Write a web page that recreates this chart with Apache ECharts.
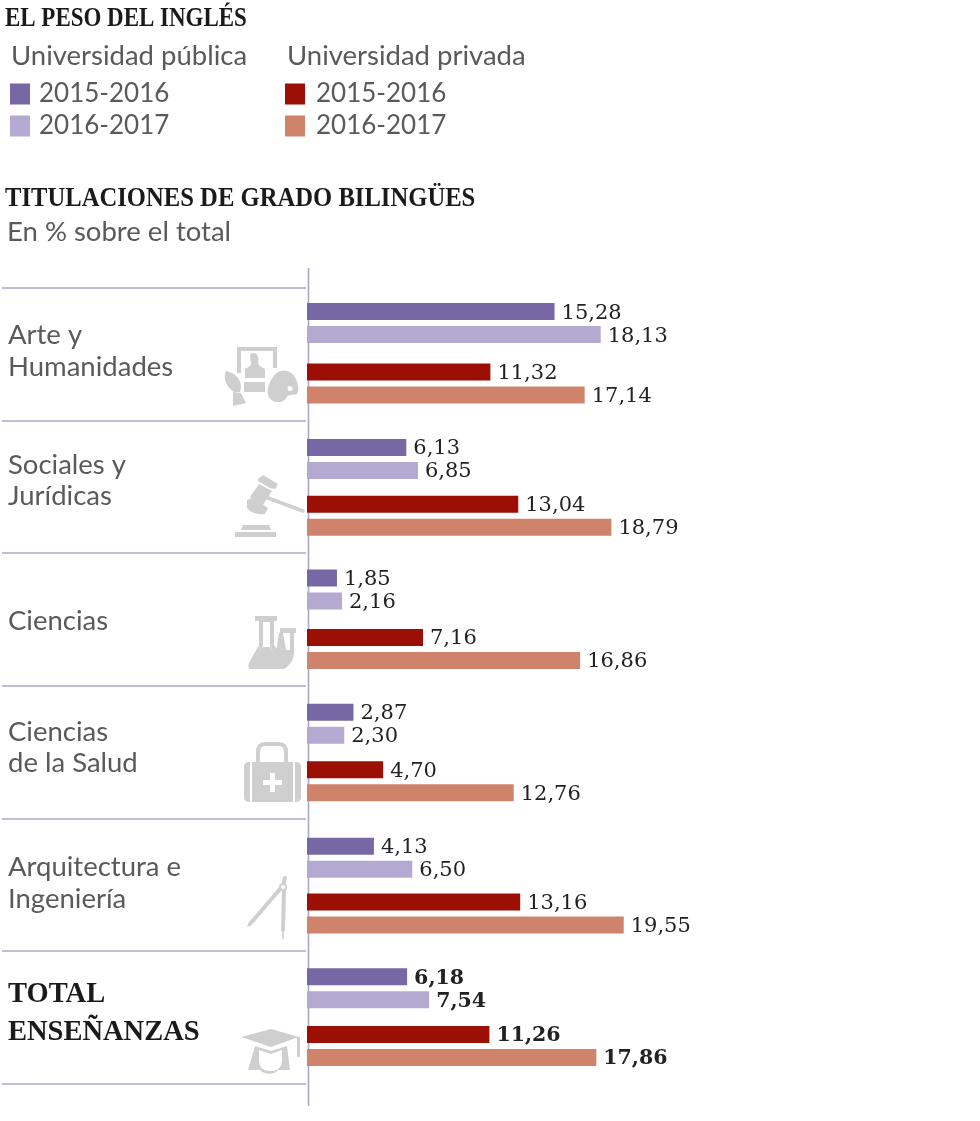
<!DOCTYPE html>
<html><head><meta charset="utf-8">
<style>html,body{margin:0;padding:0;background:#fff}#c{width:980px;height:1121px}</style>
<script src="https://cdn.jsdelivr.net/npm/echarts@6/dist/echarts.min.js"></script>
</head><body><div id="c"></div>
<script>
const categories = ["Arte y\nHumanidades","Sociales y\nJurídicas","Ciencias","Ciencias\nde la Salud","Arquitectura e\nIngeniería","TOTAL\nENSEÑANZAS"];
const publica1516 = [15.28,6.13,1.85,2.87,4.13,6.18];
const publica1617 = [18.13,6.85,2.16,2.30,6.50,7.54];
const privada1516 = [11.32,13.04,7.16,4.70,13.16,11.26];
const privada1617 = [17.14,18.79,16.86,12.76,19.55,17.86];
const rows = ["Pública","Privada"];
const seriesNames = ["2015-2016 pública","2016-2017 pública","2015-2016 privada","2016-2017 privada"];
const colors = ["#7767a4","#b4aad1","#9b0f04","#cf836b"];

// layout (pair centres, px)
const pairCentres = [[323.1,383.4],[459,515.7],[589.5,649],[723.7,781.2],[857.8,913.5],[988.2,1046]];
const labelY = [[335,367],[465,496],[621],[732,763],[867,899],[994,1032]];
const ruleY = [288,421,553,686,819,951,1084];
const SANS = "Lato", SERIF = "'DejaVu Serif'", HEAD = "'Liberation Serif'";
const PX = 16.2, LEFT = 307, XMAX = 40;
const G = "#cfcfcf";

const grids=[],xAxes=[],yAxes=[],series=[];
categories.forEach((c,i)=>{
  const [a,b]=pairCentres[i], p=b-a, bold=i===5;
  grids.push({left:LEFT,width:PX*XMAX,top:a-p/2,height:p*2,containLabel:false});
  xAxes.push({gridIndex:i,type:'value',min:0,max:XMAX,show:false});
  yAxes.push({gridIndex:i,type:'category',inverse:true,data:rows,show:false});
  const vals=[[publica1516[i],null],[publica1617[i],null],[null,privada1516[i]],[null,privada1617[i]]];
  vals.forEach((d,k)=>series.push({
    type:'bar',name:seriesNames[k],xAxisIndex:i,yAxisIndex:i,stack:'g'+i+'s'+(k%2),data:d,
    barWidth:17,barGap:'35.3%',itemStyle:{color:colors[k]},silent:true,z:3,
    label:{show:true,position:'right',distance:7,offset:[0,1.5],color:'#222',
      fontFamily:SERIF,fontSize:bold?20.5:21,fontWeight:bold?'bold':'normal',
      formatter:o=>o.value==null?'':o.value.toFixed(2).replace('.',',')}
  }));
});

const g=[];
const head=(t,y,w)=>g.push({type:'text',x:5,y,scaleX:w,z:5,style:{text:t,fill:'#1a1a1a',font:`bold 28px ${HEAD}`,verticalAlign:'middle'}});
head("EL PESO DEL INGLÉS",19,0.82);
head("TITULACIONES DE GRADO BILINGÜES",199,0.88);
const sans=(t,x,y,size=27.5,fill='#5a5a5a')=>g.push({type:'text',x,y,z:5,style:{text:t,fill,font:`${size}px ${SANS}`,verticalAlign:'middle'}});
sans("Universidad pública",11,56);
sans("Universidad privada",287,56);
sans("En % sobre el total",7,232);
categories.forEach((c,i)=>{
  c.split("\n").forEach((t,j)=>{
    const y=labelY[i][j];
    if(i===5) g.push({type:'text',x:8,y,scaleX:0.95,z:5,style:{text:t,fill:'#1a1a1a',font:`bold 30px ${HEAD}`,verticalAlign:'middle'}});
    else sans(t,8,y);
  });
});
ruleY.forEach(y=>g.push({type:'line',z:1,shape:{x1:2,y1:y,x2:306,y2:y},style:{stroke:'#aca7ca',lineWidth:1.6}}));
g.push({type:'line',z:1,shape:{x1:308.5,y1:268,x2:308.5,y2:1106},style:{stroke:'#aca7ca',lineWidth:1.6}});

const icons=[];
const path=(d,fill=G,extra={})=>icons.push({type:'path',shape:{pathData:d},style:Object.assign({fill},extra)});
const stroke=(d,w,col=G)=>path(d,'none',{stroke:col,lineWidth:w,lineCap:'round',lineJoin:'round'});
// art
path("M237 347H277V368H273V351H241V373H237Z");
path("M253 353C258 353 259 358 258 362C258 365 261 367 265 369V378H245V369C249 367 252 365 251 362C250 358 249 353 253 353Z");
path("M244 382H265V392H244Z");
path("M286 370C297 372 301 387 298 394C295 397 290 394 287 398C283 405 272 404 268 397C264 387 273 368 286 370Z",G,{stroke:'#fff',lineWidth:1.5});
path("M290 386a2.5 2.5 0 1 0 .1 0Z","#fff");
path("M226 371C234 373 241 378 241 387L240 392L234 392C228 388 222 380 226 371Z");
path("M233 392L241 393L246 403L233 406Z");
// gavel
path("M258 479L263 475L278 484L275 489L270 488L258 481Z");
path("M259 484L272 491L263 505L250 497Z");
path("M247 500L252 498L268 508L265 514C258 515 251 513 247 508Z");
stroke("M268 498L303 511",3.5);
path("M243 525H269L271 530H241Z");
path("M235 532H276V537H235Z");
// flask
path("M255 616H277V621H274V645L288 664C288 667 285 669 282 669H251C248 669 248 666 249 663L259 645V621H255Z");
path("M263 622H270V646L277 661H256L263 646Z","#fff");
path("M254 662L263 647H270L279 662Z");
path("M280 628H296V633H294V652C294 660 289 668 282 668L276 652L279 633H280Z");
path("M283 633H290V650H286Z","#fff");
// medkit
stroke("M258 761V752C258 746 261 744 265 744H279C283 744 286 746 286 752V761",4);
path("M249 762H296C299 762 301 764 301 767V797C301 800 299 802 296 802H249C246 802 244 800 244 797V767C244 764 246 762 249 762Z");
path("M250 762H252V802H250ZM293 762H295V802H293Z","#fff");
path("M270 773H275V780H282V785H275V792H270V785H263V780H270Z","#fff");
// compass
stroke("M285 878L283 886",4);
stroke("M280 889L250 924",4);
stroke("M284 890L283 930",4);
stroke("M283 930L283 939",1.5);
stroke("M250 924L248 926",1.5);
icons.push({type:'circle',shape:{cx:283,cy:887,r:3},style:{fill:'#fff',stroke:G,lineWidth:2}});
// graduation cap
path("M241 1037L271 1029L299 1037L271 1047Z");
path("M297 1037H300V1057H297Z");
path("M255 1046L271 1051L287 1046L290 1070H278C275 1075 264 1075 260 1070H248Z");
path("M259 1050L271 1054L282 1050V1060C282 1068 277 1071 271 1071C264 1071 259 1068 259 1060Z","#fff");

series.push({type:'custom',coordinateSystem:'none',silent:true,z:2,data:[0],
  renderItem:()=>({type:'group',children:icons})});

const legendBase={orient:'vertical',icon:'rect',itemWidth:20,itemHeight:21,itemGap:6,selectedMode:false,top:76,padding:[5,5],
  formatter:n=>n.split(' ')[0]};
const legendText=pad=>({color:'#5a5a5a',fontFamily:SANS,fontSize:26,lineHeight:21,padding:[0,0,0,pad]});
const option={
  backgroundColor:'#fff',animation:false,tooltip:{show:false},
  legend:[Object.assign({},legendBase,{left:5,data:seriesNames.slice(0,2),textStyle:legendText(4)}),
          Object.assign({},legendBase,{left:280,data:seriesNames.slice(2),textStyle:legendText(6)})],
  grid:grids,xAxis:xAxes,yAxis:yAxes,series,graphic:{elements:g}
};
echarts.init(document.getElementById('c'),null,{renderer:'canvas'}).setOption(option);
</script></body></html>
